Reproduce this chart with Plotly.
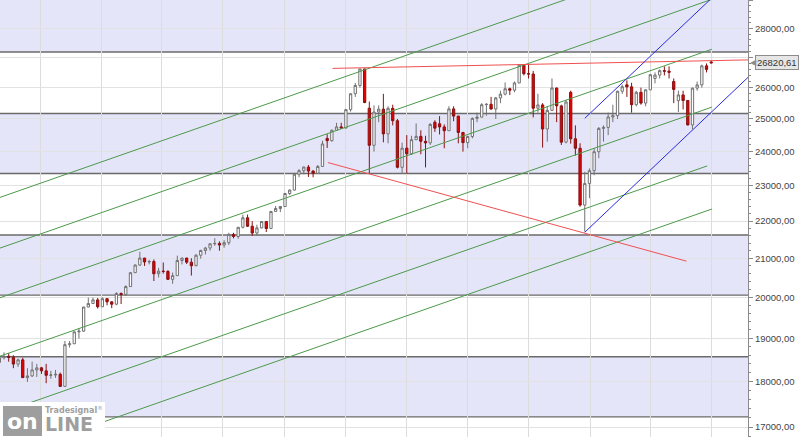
import numpy as np
import pandas as pd
import plotly.graph_objects as go

# ---------------- weekly OHLC ----------------
opens = [18432, 18543, 18576, 18552, 18395, 18492, 18085, 18124, 18261, 18308, 18240, 18138, 18145, 18161,
         17888, 18847, 18868, 19152, 19170, 19757, 19843, 19934,
         19763, 19964, 19885, 19827, 20094, 20071, 20269, 20624, 20822, 21005, 20903, 20914, 20596, 20663,
         20656, 20453, 20548, 20941, 21006, 20897, 20804, 21080, 21206, 21271, 21384, 21394, 21350, 21414,
         21637, 21580, 21830, 22092, 21858, 21674, 21814, 21988, 21797, 22268, 22349, 22405, 22773, 22871,
         23329, 23434, 23539, 23422, 23358, 23558, 24400, 24329, 24651, 24754,
         24719, 25295, 25803, 26071, 26616, 25340, 24190, 25219, 25310, 24538, 25336, 24946, 23533, 24103,
         23933, 24360, 24463, 24311, 24263, 24900, 24850, 24753, 24635, 25317, 25090, 24581, 24271, 24456,
         25019, 25058, 25451, 25463, 25313, 25669, 25790, 25965, 25917, 26154, 26743, 26458, 26447, 25340,
         25444, 24688, 25271, 25989, 25413, 24285, 25850, 24389, 24101, 22445, 23062,
         23433, 23996, 24706, 24737, 25064, 25106, 25883, 26091, 26026, 25450, 25849, 25502, 25929, 26300,
         26412, 26559, 26543, 26200, 25580, 25764, 25586, 24815, 25984, 26090, 26719, 26850]
highs = [18600, 18668, 18650, 18600, 18520, 18540, 18300, 18450, 18400, 18330, 18400, 18240, 18260, 18200,
         18935, 18935, 19160, 19240, 19760, 19990, 19990, 19980,
         19999, 19975, 19900, 20125, 20120, 20300, 20640, 20840, 21170, 21010, 20960, 20970, 20750, 20890,
         20690, 20630, 21070, 21010, 21010, 21000, 21110, 21225, 21300, 21390, 21535, 21450, 21480, 21680,
         21680, 21840, 22180, 22180, 22000, 21900, 22000, 22000, 22280, 22420, 22420, 22790, 22890, 23370,
         23480, 23560, 23600, 23450, 23600, 24330, 24530, 24670, 24880, 24880,
         25300, 25810, 26150, 26617, 26620, 25550, 25430, 25430, 25800, 25400, 25450, 25000, 24270, 24500,
         24480, 24860, 24650, 24480, 24870, 24960, 25090, 24830, 25400, 25400, 25100, 24600, 24480, 25050,
         25200, 25500, 25500, 25700, 25700, 25900, 26170, 26000, 26200, 26770, 26760, 26760, 26550, 25800,
         25500, 25400, 26300, 26000, 25450, 25600, 25900, 24800, 24250, 23400, 23500,
         24100, 24750, 24800, 25200, 25450, 25900, 26100, 26240, 26160, 25900, 26000, 25950, 26450, 26500,
         26600, 26700, 26700, 26300, 25900, 25900, 25600, 26000, 26200, 26760, 26800, 26880]
lows = [18300, 18500, 18450, 18300, 18330, 18080, 17990, 18100, 18100, 18170, 17960, 18060, 18080, 17880,
        17880, 18780, 18870, 18990, 19150, 19750, 19840, 19720,
        19760, 19800, 19730, 19800, 19830, 20030, 20260, 20620, 20800, 20800, 20840, 20410, 20500, 20600,
        20450, 20340, 20550, 20840, 20850, 20550, 20830, 20990, 21100, 21200, 21330, 21200, 21280, 21350,
        21530, 21520, 21800, 21840, 21600, 21600, 21800, 21700, 21790, 22260, 22250, 22400, 22730, 22860,
        23240, 23330, 23250, 23240, 23360, 23560, 24110, 24300, 24650, 24710,
        24700, 25230, 25700, 26000, 25500, 23360, 24000, 24900, 24280, 24250, 24800, 23500, 23340, 23340,
        23900, 24350, 23920, 23530, 24200, 24600, 24520, 24100, 24630, 24930, 24250, 24000, 24100, 24400,
        24900, 25050, 25100, 25300, 25000, 25500, 25750, 25760, 25850, 26150, 26400, 26300, 25050, 25200,
        24120, 24300, 25250, 24900, 24200, 24250, 24240, 23880, 22400, 21712, 22640,
        23300, 23800, 24300, 24500, 24900, 25000, 25800, 25700, 25200, 25400, 25450, 25400, 25930, 26140,
        26300, 26400, 26300, 25500, 25220, 25300, 24800, 24680, 25900, 26000, 26500, 26800]
closes = [18543, 18576, 18552, 18395, 18492, 18085, 18124, 18261, 18308, 18240, 18138, 18145, 18161, 17888,
          18847, 18868, 19152, 19170, 19757, 19843, 19934, 19763,
          19964, 19885, 19827, 20094, 20071, 20269, 20624, 20822, 21005, 20903, 20914, 20596, 20663, 20656,
          20453, 20548, 20941, 21006, 20897, 20804, 21080, 21206, 21271, 21384, 21394, 21350, 21414, 21637,
          21580, 21830, 22092, 21858, 21674, 21814, 21988, 21797, 22268, 22349, 22405, 22773, 22871, 23329,
          23434, 23539, 23422, 23358, 23558, 24231, 24329, 24651, 24754, 24719,
          25295, 25803, 26071, 26616, 25521, 24190, 25219, 25310, 24538, 25336, 24946, 23533, 24103, 23933,
          24360, 24463, 24311, 24263, 24831, 24715, 24753, 24635, 25317, 25090, 24581, 24271, 24456, 25019,
          25058, 25451, 25463, 25313, 25669, 25790, 25965, 25917, 26154, 26743, 26458, 26447, 25340, 25444,
          24688, 25271, 25989, 25413, 24285, 25538, 24389, 24101, 22445, 23062, 23433,
          23996, 24706, 24737, 25064, 25106, 25883, 26031, 26026, 25450, 25849, 25502, 25929, 26425, 26412,
          26559, 26543, 26505, 25942, 25764, 25586, 24815, 25984, 26090, 26719, 26600, 26820.61]
week_start = pd.date_range("2016-08-01", periods=len(closes), freq="W-MON")

# horizontal band levels
band_levels = [27185, 25170, 23350, 21619, 20053, 18563, 17219]
band_fill_pairs = [(27185, 30000), (23350, 25170), (20053, 21619), (17219, 18563)]

# trend lines (start date, start price, end date, end price)
green_start_dates = ["2016-08-02", "2016-08-02", "2016-08-02", "2016-08-02", "2016-08-02", "2017-01-06"]
green_start_prices = [22663, 21269, 19987, 18578, 17297, 17122]
green_end_dates = ["2019-01-16", "2019-07-13", "2019-07-02", "2019-07-02", "2019-06-25", "2019-07-02"]
green_end_prices = [29473, 29134, 27281, 25374, 23573, 22335]

red_start_dates = ["2017-12-12", "2017-12-05"]
red_start_prices = [26634, 23674]
red_end_dates = ["2019-08-25", "2019-05-25"]
red_end_prices = [26919, 20924]

blue_start_dates = ["2018-12-24", "2018-12-24"]
blue_start_prices = [21694, 25020]
blue_end_dates = ["2019-08-25", "2019-07-02"]
blue_end_prices = [26337, 29090]

y_tick_values = list(range(17000, 30000, 1000))
y_tick_labels = [f"{v},00" for v in y_tick_values]
y_minor_values = [v for v in range(16800, 29200, 200) if v % 1000]

last_price = closes[-1]

FONT = "Liberation Sans, Arial, sans-serif"

fig = go.Figure()

def add_lines(sd, sp, ed, ep, color):
    for a, b, c, d in zip(sd, sp, ed, ep):
        fig.add_trace(go.Scatter(x=[a, c], y=[b, d], mode="lines",
                                 line=dict(color=color, width=1), hoverinfo="skip", showlegend=False))

add_lines(green_start_dates, green_start_prices, green_end_dates, green_end_prices, "#4c9a4c")
add_lines(red_start_dates, red_start_prices, red_end_dates, red_end_prices, "#f05050")
add_lines(blue_start_dates, blue_start_prices, blue_end_dates, blue_end_prices, "#2a2ae0")

fig.add_trace(go.Candlestick(
    x=week_start, open=opens, high=highs, low=lows, close=closes,
    increasing=dict(fillcolor="#ffffff", line=dict(color="#727272", width=1)),
    decreasing=dict(fillcolor="#e60000", line=dict(color="#8a1010", width=1)),
    whiskerwidth=0, showlegend=False, hoverinfo="skip"))

shapes = []
for lo, hi in band_fill_pairs:
    shapes.append(dict(type="rect", xref="paper", x0=0, x1=1, yref="y", y0=lo, y1=hi,
                       fillcolor="#e5e5f9", line=dict(width=0), layer="below"))
for lv in band_levels:
    shapes.append(dict(type="line", xref="paper", x0=0, x1=1, yref="y", y0=lv, y1=lv,
                       line=dict(color="#6a6a6a", width=1.4), layer="below"))
# logo background
shapes.append(dict(type="rect", xref="paper", yref="paper", x0=0, x1=105 / 748, y0=0, y1=1 - 402 / 437,
                   fillcolor="#ffffff", line=dict(width=0), layer="above"))
shapes.append(dict(type="rect", xref="paper", yref="paper", x0=3 / 748, x1=42 / 748, y0=1 - 436 / 437,
                   y1=1 - 406 / 437, fillcolor="#9e9e9e", line=dict(width=0), layer="above"))

annotations = [
    dict(xref="paper", yref="y", x=1, y=np.log10(last_price), xanchor="left", yanchor="middle", xshift=7,
         text="26820,61", showarrow=False, font=dict(family=FONT, size=9.5, color="#333"),
         bgcolor="#e6e6e6", bordercolor="#8c8c8c", borderwidth=1, borderpad=1),
    dict(xref="paper", yref="y", x=1, y=np.log10(last_price), xanchor="left", yanchor="middle", xshift=0,
         text="◀", showarrow=False, font=dict(family="DejaVu Sans", size=8, color="#8c8c8c")),
    dict(xref="paper", yref="paper", x=22.5 / 748, y=1 - 421 / 437, xanchor="center", yanchor="middle",
         text="<b>on</b>", showarrow=False, font=dict(family="DejaVu Sans", size=22, color="#ffffff")),
    dict(xref="paper", yref="paper", x=43 / 748, y=1 - 424 / 437, xanchor="left", yanchor="middle",
         text="<b>LINE</b>", showarrow=False, font=dict(family="DejaVu Sans", size=19, color="#9e9e9e")),
    dict(xref="paper", yref="paper", x=43 / 748, y=1 - 410 / 437, xanchor="left", yanchor="middle",
         text="<b>Tradesignal</b><sup>®</sup>", showarrow=False,
         font=dict(family="DejaVu Sans", size=8, color="#a0a0a0")),
]

fig.update_layout(
    width=800, height=437, autosize=False,
    margin=dict(l=0, r=52, t=0, b=0, autoexpand=False),
    paper_bgcolor="#ffffff", plot_bgcolor="#ffffff",
    shapes=shapes, annotations=annotations,
    showlegend=False,
    xaxis=dict(type="date", range=["2016-08-02", "2019-08-25"], showticklabels=False,
               showgrid=True, gridcolor="#dcdcdc", gridwidth=1, tick0="2016-01-01", dtick="M3",
               rangeslider=dict(visible=False), zeroline=False, showline=False, ticks=""),
    yaxis=dict(type="log", side="right", range=[np.log10(16790), np.log10(29015)], automargin=False,
               tickvals=y_tick_values, ticktext=y_tick_labels,
               tickfont=dict(family=FONT, size=9.5, color="#444"),
               ticks="outside", ticklen=4, tickcolor="#8a8a8a",
               showline=True, linecolor="#8a8a8a", linewidth=1,
               showgrid=True, gridcolor="#e2e2e2", zeroline=False,
               minor=dict(tickvals=y_minor_values, ticks="outside", ticklen=2, tickcolor="#8a8a8a",
                          showgrid=False)),
)

fig.write_html("out.html", config={"displayModeBar": False},
               post_script="document.body.style.margin='0';document.body.style.overflow='hidden';")
